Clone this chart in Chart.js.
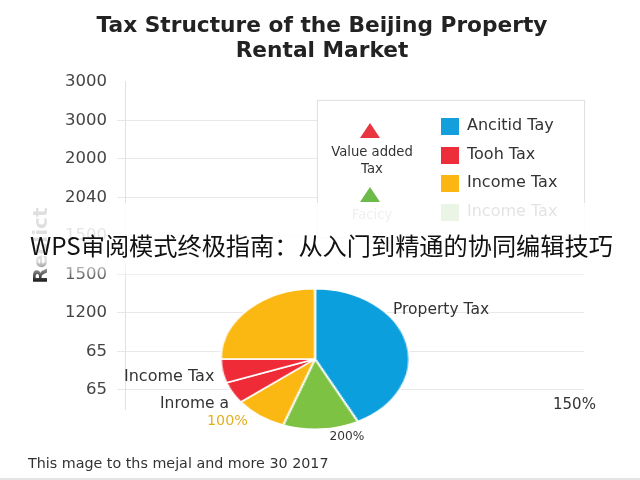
<!DOCTYPE html>
<html>
<head>
<meta charset="utf-8">
<script src="https://cdn.jsdelivr.net/npm/chart.js@4.4.1/dist/chart.umd.min.js"></script>
<style>
  html, body { margin: 0; padding: 0; background: #fff; }
  #wrap { position: relative; width: 640px; height: 480px; overflow: hidden; font-family: "DejaVu Sans", sans-serif; color: #333; }
  #mainBox { position: absolute; left: 0; top: 0; width: 640px; height: 480px; }
  #legend { position: absolute; left: 317px; top: 100px; width: 268px; height: 138px; border: 1px solid #e2e2e2; background: #fff; box-sizing: border-box; box-shadow: 0 0 2px rgba(0,0,0,0.04); }
  #pieBox { position: absolute; left: 244px; top: 288px; width: 142px; height: 142px; transform: scaleX(1.34); transform-origin: 50% 50%; }
  .txt { position: absolute; white-space: nowrap; line-height: 1; }
  .tri { position: absolute; width: 0; height: 0; border-left: 10px solid transparent; border-right: 10px solid transparent; border-bottom-width: 15px; border-bottom-style: solid; }
  .sq { position: absolute; width: 18px; height: 17px; }
  #banner { position: absolute; left: 0; top: 203px; width: 640px; height: 78px;
            background: linear-gradient(to bottom, rgba(255,255,255,0.86) 0px, rgba(255,255,255,0.86) 58px, rgba(255,255,255,0) 78px); }
  #bannerText { position: absolute; left: 30px; top: 228px; font-family: "Noto Sans CJK SC", sans-serif; font-size: 24.2px; line-height: 34px; color: #111; white-space: nowrap; }
  #bottomLine { position: absolute; left: 0; top: 478px; width: 640px; height: 2px; background: #e4e4e4; }
</style>
</head>
<body>
<div id="wrap">
  <div id="mainBox"><canvas id="mainCanvas"></canvas></div>
  <div id="legend"></div>
  <div id="pieBox"><canvas id="pieCanvas"></canvas></div>
  <div id="labels"></div>
  <div id="banner"></div>
  <div id="bannerText"></div>
  <div id="bottomLine"></div>
</div>
<script>
// ---------- data ----------
const titleLines = ['Tax Structure of the Beijing Property', 'Rental Market'];
const yTitle = 'Reclict';
const yTicks = ['3000', '3000', '2000', '2040', '1500', '1500', '1200', '65', '65'];

const sliceLabels = ['Property Tax', 'Other', 'Income Tax', 'Tooh Tax', 'Tooh Tax', 'Income Tax'];
const sliceValues = [42.5, 13, 9, 5, 5.5, 25];
const sliceColors = ['#0b9fde', '#7dc243', '#fbb812', '#ee2b37', '#ee2b37', '#fbb812'];

const legendTriLabels = [['Value added', 'Tax'], ['Facicy']];
const legendTriColors = ['#e8353f', '#6cba4a'];
const legendSqLabels = ['Ancitid Tay', 'Tooh Tax', 'Income Tax', 'Income Tax'];
const legendSqColors = ['#129fdc', '#ee2d3a', '#fbb614', '#6cba4a'];

const pieTexts = ['Property Tax', '200%', 'Income Tax', 'Inrome a', '100%', '150%'];
const bannerText = 'WPS审阅模式终极指南：从入门到精通的协同编辑技巧';
const footerText = 'This mage to ths mejal and more 30 2017';

// ---------- layout (positions/styles only) ----------
const FONT = 'DejaVu Sans';
const pieTextLayout = [
  { x: 393, y: 311, size: 15.5, color: '#333', align: 'left' },
  { x: 347, y: 437, size: 12.2, color: '#333', align: 'center' },
  { x: 124, y: 377, size: 16, color: '#333', align: 'left' },
  { x: 160, y: 405, size: 15.5, color: '#333', align: 'left' },
  { x: 207, y: 421, size: 14.3, color: '#e2b020', align: 'left' },
  { x: 553, y: 405, size: 15, color: '#333', align: 'left' }
];

function placeText(parent, text, x, y, size, color, align, extra) {
  const s = document.createElement('span');
  s.className = 'txt';
  s.textContent = text;
  s.style.fontSize = size + 'px';
  s.style.color = color;
  s.style.left = x + 'px';
  s.style.top = y + 'px';
  const tx = align === 'center' ? '-50%' : '0';
  s.style.transform = 'translate(' + tx + ', -55%)';
  if (extra) Object.assign(s.style, extra);
  parent.appendChild(s);
  return s;
}

// ---------- main axis chart ----------
new Chart(document.getElementById('mainCanvas'), {
  type: 'scatter',
  data: { datasets: [] },
  options: {
    responsive: true,
    maintainAspectRatio: false,
    animation: false,
    layout: { padding: { left: 26, right: 22, top: 0, bottom: 71 } },
    plugins: {
      legend: { display: false },
      tooltip: { enabled: false },
      title: {
        display: true,
        text: titleLines,
        color: '#222',
        font: { family: FONT, size: 21.7, weight: 'bold', lineHeight: 1.152 },
        padding: { top: 13.5, bottom: 18.5 }
      }
    },
    scales: {
      x: { type: 'linear', display: false, min: 0, max: 1 },
      y: {
        type: 'linear',
        reverse: true,
        min: 0,
        max: 8.5,
        afterBuildTicks: s => { s.ticks = yTicks.map((_, i) => ({ value: i })); },
        afterFit: s => { s.width = 99; },
        ticks: {
          autoSkip: false,
          callback: v => yTicks[Math.round(v)],
          color: '#444',
          font: { family: FONT, size: 16.5 },
          padding: 10
        },
        grid: {
          color: c => (c.index === 0 ? 'rgba(0,0,0,0)' : '#e8e8e8'),
          tickLength: 8,
          drawTicks: true
        },
        border: { display: true, color: '#e2e2e2' },
        title: {
          display: true,
          text: yTitle,
          color: '#222',
          font: { family: FONT, size: 20, weight: 'bold' },
          padding: { top: 4, bottom: 4 }
        }
      },
      yRight: {
        type: 'linear',
        position: 'right',
        min: 0,
        max: 1,
        afterFit: s => { s.width = 34; },
        ticks: { display: false },
        grid: { display: false },
        border: { display: false }
      }
    }
  }
});

// ---------- pie chart ----------
new Chart(document.getElementById('pieCanvas'), {
  type: 'pie',
  data: {
    labels: sliceLabels,
    datasets: [{
      data: sliceValues,
      backgroundColor: sliceColors,
      borderColor: '#ffffff',
      borderWidth: 1.5
    }]
  },
  options: {
    responsive: true,
    maintainAspectRatio: false,
    animation: false,
    layout: { padding: 0 },
    plugins: { legend: { display: false }, tooltip: { enabled: false } }
  }
});

// ---------- legend ----------
const lg = document.getElementById('legend');
const triPos = [{ cx: 52, top: 22, textY: [51, 68] }, { cx: 52, top: 86, textY: [114] }];
legendTriLabels.forEach((lines, i) => {
  const t = document.createElement('div');
  t.className = 'tri';
  t.style.left = (triPos[i].cx - 10) + 'px';
  t.style.top = triPos[i].top + 'px';
  t.style.borderBottomColor = legendTriColors[i];
  lg.appendChild(t);
  lines.forEach((ln, j) => {
    placeText(lg, ln, triPos[i].cx + 2, triPos[i].textY[j], 13.2, i === 1 ? '#888' : '#333', 'center');
  });
});
const sqRowY = [25, 54, 82, 111];
legendSqLabels.forEach((lab, i) => {
  const q = document.createElement('div');
  q.className = 'sq';
  q.style.left = '123px';
  q.style.top = (sqRowY[i] - 8) + 'px';
  q.style.background = legendSqColors[i];
  lg.appendChild(q);
  placeText(lg, lab, 149, sqRowY[i], 16, '#333', 'left');
});

// ---------- pie & free labels ----------
const labelsDiv = document.getElementById('labels');
pieTexts.forEach((t, i) => {
  const L = pieTextLayout[i];
  placeText(labelsDiv, t, L.x, L.y, L.size, L.color, L.align);
});
placeText(labelsDiv, footerText, 28, 464, 14.3, '#333', 'left');

document.getElementById('bannerText').textContent = bannerText;
</script>
</body>
</html>
